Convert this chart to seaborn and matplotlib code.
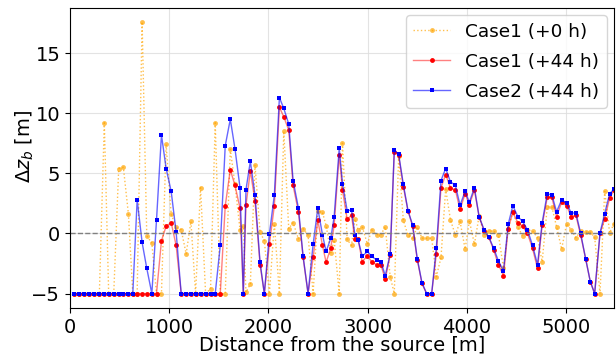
import numpy as np
import pandas as pd
import matplotlib
matplotlib.use("Agg")
import matplotlib.pyplot as plt
import seaborn as sns
from matplotlib.lines import Line2D

distance = [43, 94, 144, 195, 245, 296, 346, 390, 441, 491,
            538, 589, 633, 677, 727, 774, 825, 872, 922, 969,
            1020, 1070, 1121, 1171, 1219, 1266, 1316, 1367, 1417, 1464,
            1515, 1565, 1616, 1663, 1714, 1747, 1774, 1818, 1865, 1916,
            1959, 2010, 2060, 2111, 2155, 2205, 2249, 2303, 2350, 2400,
            2451, 2498, 2545, 2582, 2629, 2663, 2714, 2747, 2794, 2838,
            2872, 2905, 2946, 2999, 3040, 3090, 3134, 3178, 3228, 3269,
            3313, 3360, 3407, 3454, 3501, 3548, 3595, 3646, 3693, 3740,
            3787, 3835, 3885, 3932, 3983, 4026, 4077, 4124, 4175, 4222,
            4272, 4319, 4370, 4417, 4464, 4515, 4562, 4612, 4663, 4713,
            4760, 4811, 4858, 4905, 4956, 5006, 5053, 5100, 5148, 5198,
            5245, 5289, 5343, 5390, 5440, 5484]

case1_0h = [-5, -5, -5, -5, -5, -5, 9.2, -5, -5, 5.4,
            5.5, 1.6, -5, -5, 17.6, -0.2, -0.8, -5, -5, 7.4,
            1.6, 0.5, 0.3, -1.7, 1.0, -5, 3.8, -5, -4.6, 9.2,
            -5, -5, 7.0, 4.1, 0.3, 0.6, -4.9, -4.2, 5.7, 0.1,
            -0.6, -5, 0.8, -5, 8.5, 0.4, 0.9, -0.45, 0.4, -0.15,
            -5, 1.85, 1.75, 0.65, -1.6, -0.55, -5, 7.5, -0.5, -1.0,
            1.2, 0.3, 0.55, -0.9, 0.3, -0.1, -0.1, 0.55, -3.6, -5,
            6.4, 1.1, -0.15, -0.4, 0.55, -0.4, -0.4, -0.4, -3.6, -2.0,
            3.7, 1.15, -0.15, 1.0, -1.3, 1.05, -0.9, 1.45, -0.1, 0.2,
            0.2, -0.1, -2.9, 0.4, 1.8, 0.55, -0.2, 0.3, 0.2, -0.35,
            -2.35, 2.2, 2.2, 0.55, -1.3, 0.8, 0.3, -0.35, 0.2, 0.1,
            0.1, -0.3, -5, 3.5, 0.05, 0.8]

case1_44h = [-5, -5, -5, -5, -5, -5, -5, -5, -5, -5,
             -5, -5, -5, -5, -5, -5, -5, -5, -0.6, 0.6,
             0.9, -1.0, -5, -5, -5, -5, -5, -5, -5, -5,
             -5, 2.3, 5.3, 4.0, 2.1, -5, 2.35, 5.2, 2.7, -2.6,
             -5, -0.9, 2.3, 10.5, 9.7, 8.6, 4.0, 1.8, -2.0, -5,
             -2.0, 1.1, -1.0, -2.4, -1.2, 0.7, 6.55, 3.6, 1.2, 1.5,
             -0.5, -0.5, -2.35, -1.85, -2.35, -2.6, -2.6, -3.8, -1.8, 6.8,
             6.5, 3.9, 1.9, 0.6, -2.2, -4.15, -5, -5, -1.7, 3.8,
             4.9, 3.8, 3.6, 2.0, 3.3, 2.4, 3.6, 1.4, 0.2, -0.3,
             -1.4, -2.6, -3.5, 0.4, 1.75, 0.9, 0.6, 0.0, -1.25, -2.9,
             0.7, 3.0, 3.0, 1.4, 2.6, 2.3, 1.4, 1.5, -0.15, -2.1,
             -4.0, -5, 0.0, 1.2, 2.95, 3.6]

case2_44h = [-5, -5, -5, -5, -5, -5, -5, -5, -5, -5,
             -5, -5, -5, 2.8, -0.75, -2.9, -5, 1.1, 8.2, 5.4,
             3.5, 0.1, -5, -5, -5, -5, -5, -5, -5, -5,
             -1.0, 7.3, 9.5, 7.05, 3.8, -5, 3.65, 6.0, 3.2, -2.4,
             -5, -0.06, 3.2, 11.3, 10.4, 9.1, 4.4, 2.1, -1.9, -5,
             -0.9, 2.1, -0.1, -1.5, -0.4, 1.4, 7.1, 4.15, 1.9, 1.94,
             -0.1, -0.55, -1.9, -1.5, -1.9, -2.2, -2.35, -3.5, -1.7, 6.9,
             6.6, 4.1, 1.9, 0.7, -2.1, -4.1, -5, -5, -1.2, 4.4,
             5.4, 4.3, 4.0, 2.35, 3.5, 2.6, 3.8, 1.4, 0.3, -0.3,
             -1.25, -2.3, -3.1, 0.75, 2.3, 1.4, 1.0, 0.3, -1.0, -2.6,
             0.9, 3.3, 3.2, 1.8, 2.8, 2.5, 1.7, 1.7, 0.0, -2.1,
             -4.0, -5, 0.05, 1.65, 3.3, 3.7]

df = pd.DataFrame({"distance": distance, "c10": case1_0h,
                   "c144": case1_44h, "c244": case2_44h})

fig, ax = plt.subplots(figsize=(6.16, 3.54), dpi=100)
fig.subplots_adjust(left=70/616, right=614/616, top=1-8/354, bottom=1-308/354)

sns.lineplot(data=df, x="distance", y="c10", ax=ax, color="orange",
             linestyle=":", linewidth=1.0, marker="o", markersize=3.5,
             markeredgewidth=0, alpha=0.7, label="_nolegend_")
sns.lineplot(data=df, x="distance", y="c144", ax=ax, color="red",
             linestyle="-", linewidth=1.0, alpha=0.5, label="_nolegend_")
sns.lineplot(data=df, x="distance", y="c144", ax=ax, color="red",
             linestyle="none", marker="o", markersize=3.5,
             markeredgewidth=0, label="_nolegend_")
sns.lineplot(data=df, x="distance", y="c244", ax=ax, color="blue",
             linestyle="-", linewidth=1.0, alpha=0.6, label="_nolegend_")
sns.lineplot(data=df, x="distance", y="c244", ax=ax, color="blue",
             linestyle="none", marker="s", markersize=2.5,
             markeredgewidth=0, label="_nolegend_")

ax.axhline(0, color="gray", linestyle="--", linewidth=1.0)

handles = [
    Line2D([], [], color="orange", linestyle=":", linewidth=1.0, marker="o",
           markersize=3.5, markeredgewidth=0, alpha=0.7),
    Line2D([], [], color=(1, 0.5, 0.5), linestyle="-", linewidth=1.0, marker="o",
           markersize=3.5, markeredgewidth=0, markerfacecolor="red"),
    Line2D([], [], color=(0.4, 0.4, 1), linestyle="-", linewidth=1.0, marker="s",
           markersize=2.5, markeredgewidth=0, markerfacecolor="blue"),
]
ax.legend(handles, ["Case1 (+0 h)", "Case1 (+44 h)", "Case2 (+44 h)"],
          loc="upper right", fontsize=13.3, handlelength=2.0,
          labelspacing=0.65, borderaxespad=0.4)

ax.set_xlim(0, distance[-1])
ax.set_ylim(-6.2, 18.75)
ax.set_xticks([0, 1000, 2000, 3000, 4000, 5000])
ax.set_yticks([-5, 0, 5, 10, 15])
ax.grid(True, color="#dddddd", linewidth=0.8, alpha=0.8)
ax.set_axisbelow(True)
ax.tick_params(labelsize=14)
ax.set_xlabel("Distance from the source [m]", fontsize=14, labelpad=-1)
ax.set_ylabel(r"$\Delta z_b$ [m]", fontsize=14)
ax.yaxis.set_label_coords(-0.063, 0.54)

fig.savefig("out.png", dpi=100)
